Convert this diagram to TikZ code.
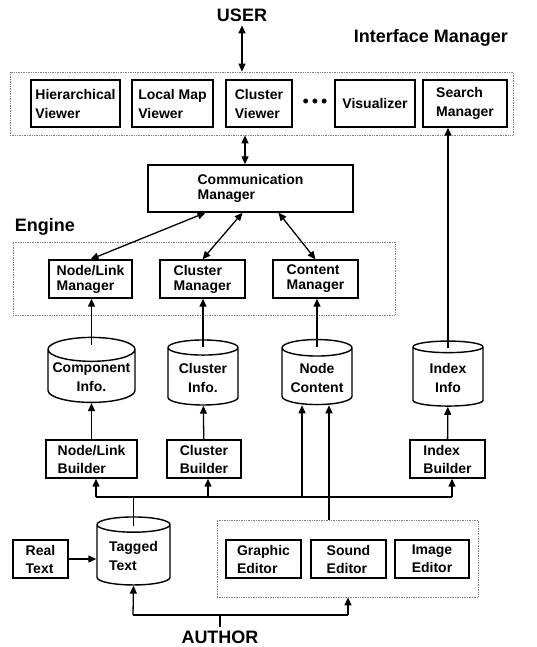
\documentclass[tikz,border=0pt]{standalone}
\usepackage{fontspec}
\setmainfont{Liberation Sans}
\usetikzlibrary{arrows,arrows.meta,positioning,shapes,fit,calc}
\begin{document}
\begin{tikzpicture}[x=1pt, y=-1pt, line width=1.3pt, >={Triangle[length=8pt,width=7pt]},
box node/.style={rectangle,draw,line width=1.4pt,align=left,inner sep=1pt,minimum height=38pt,font=\bfseries\fontsize{14}{18}\selectfont},
db node/.style={cylinder,shape border rotate=90,aspect=0.3,draw,line width=1.4pt,align=center,inner sep=1pt,font=\bfseries\fontsize{14}{19}\selectfont},
group node/.style={rectangle,draw=gray,densely dotted,line width=0.7pt},
title node/.style={font=\bfseries\fontsize{18}{20}\selectfont}]
\useasboundingbox (0,0) rectangle (537,647);
% dotted groups
\begin{scope}[every node/.style={group node}]
\node[minimum width=503pt,minimum height=63pt] (im) at (261.5,103.5) {};
\node[minimum width=382pt,minimum height=73pt] (eng) at (204,278.5) {};
\node[minimum width=261pt,minimum height=77pt] (edt) at (347.5,558.5) {};
\end{scope}
% labels
\node[title node] (user) at (242,15) {USER};
\node[title node,anchor=east] (imlabel) at (512,38) {Interface Manager};
\node[title node,anchor=west] (englabel) at (11,227) {Engine};
\node[title node] (author) at (220,637) {AUTHOR};
% interface manager
\begin{scope}[every node/.style={box node,minimum height=47pt,font=\bfseries\fontsize{14}{19}\selectfont}]
\node[minimum width=89pt] (hv) at (75.5,103.5) {Hierarchical\\Viewer};
\node[minimum width=81pt] (lmv) at (172.5,103.5) {Local Map\\Viewer};
\node[minimum width=66pt] (cv) at (259,103.5) {Cluster\\Viewer};
\node[minimum width=80pt] (vis) at (375,103.5) {Visualizer};
\node[minimum width=84pt] (sm) at (465,103.5) {Search\\Manager};
\end{scope}
\node[font=\fontsize{18}{18}\selectfont] (dots) at (315,103) {\textbullet\,\textbullet\,\textbullet};
% engine
\node[box node,minimum width=205pt,minimum height=47pt,font=\bfseries\fontsize{14}{15}\selectfont] (cm) at (250.5,188.5) {Communication\\Manager};
\begin{scope}[every node/.style={box node,font=\bfseries\fontsize{14}{15}\selectfont}]
\node[minimum width=83pt] (nlm) at (90.5,279) {Node/Link\\Manager};
\node[minimum width=85pt] (clm) at (202.5,279) {Cluster\\Manager};
\node[minimum width=85pt] (ctm) at (315.5,279) {Content\\Manager};
\end{scope}
% databases
\begin{scope}[every node/.style={db node,minimum height=65pt}]
\node[minimum width=87pt] (ci) at (91.5,377.5) {Component\\Info.};
\node[minimum width=70pt] (cli) at (203,377.5) {Cluster\\Info.};
\node[minimum width=70pt] (nc) at (317,377.5) {Node\\Content};
\node[minimum width=70pt] (ii) at (448,377.5) {Index\\Info};
\node[minimum width=73pt,minimum height=68pt,align=left] (tt) at (133.5,556) {Tagged\\Text};
\end{scope}
% builders and editors
\begin{scope}[every node/.style={box node}]
\node[minimum width=91pt] (nlb) at (91.5,459) {Node/Link\\Builder};
\node[minimum width=74pt] (clb) at (204,459) {Cluster\\Builder};
\node[minimum width=75pt] (ib) at (447.5,459) {Index\\Builder};
\node[minimum width=55pt] (rt) at (40.5,559) {Real\\Text};
\node[minimum width=75pt] (ge) at (263.5,559) {Graphic\\Editor};
\node[minimum width=75pt] (se) at (348.5,559) {Sound\\Editor};
\node[minimum width=74pt] (ie) at (432,559) {Image\\Editor};
\end{scope}
% connectors
\coordinate (busl) at (96,497);
\coordinate (busc) at (208,497);
\coordinate (busn) at (302,497);
\coordinate (busr) at (452,497);
\coordinate (al) at (133,615);
\coordinate (ar) at (348,615);
\coordinate (edn) at (329,520);
\draw[<->] (user) -- (user.south |- im.north);
\draw[<->] (cm.north -| 245,0) -- (245,0 |- im.south);
\draw[<->] ([xshift=-45pt]cm.south) -- (nlm.north);
\draw[<->] ([xshift=-8pt]cm.south) -- (clm.north);
\draw[<->] ([xshift=28pt]cm.south) -- (ctm.north);
\draw[->] ([yshift=-8pt]ci.north) -- (ci.north |- nlm.south);
\draw[->] ([yshift=-8pt]cli.north) -- (cli.north |- clm.south);
\draw[->] ([yshift=-8pt]nc.north) -- (nc.north |- ctm.south);
\draw[->] ([yshift=-8pt]ii.north) -- (ii.north |- sm.south);
\draw[->] (nlb) -- (ci);
\draw[->] (clb) -- (cli);
\draw[->] (ib) -- (ii);
\draw (busl) -- (busr);
\draw[->] (busl) -- (busl |- nlb.south);
\draw[->] (busc) -- (busc |- clb.south);
\draw[->] (busr) -- (busr |- ib.south);
\draw[->] (busn) -- (busn |- nc.south);
\draw[->] (edn) -- (edn |- nc.south);
\draw ([yshift=-10pt]tt.north) -- (tt.north |- busl);
\draw[->] (rt.east) -- (rt.east -| tt.west);
\draw (author) -- (author.north |- al);
\draw (al) -- (ar);
\draw[->] (al) -- (tt.south);
\draw[->] (ar) -- (ar |- edt.south);
\end{tikzpicture}
\end{document}
